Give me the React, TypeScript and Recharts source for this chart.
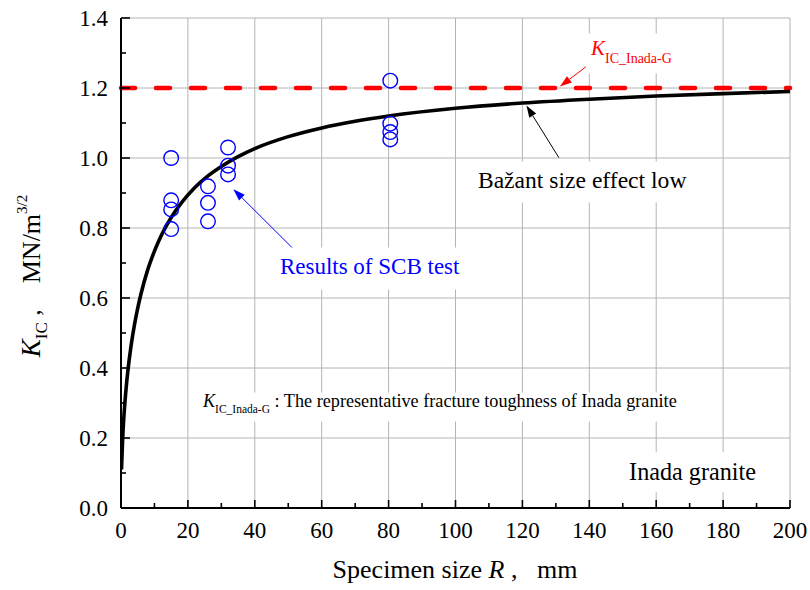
import React from 'react';
import {
  ComposedChart,
  XAxis,
  YAxis,
  CartesianGrid,
  Line,
  Scatter,
  ReferenceLine,
  ReferenceDot,
} from 'recharts';

// ---------- data ----------
const testR = [15, 15, 15, 15, 26, 26, 26, 32, 32, 32, 80.5, 80.5, 80.5, 80.5];
const testK = [1.0, 0.879, 0.853, 0.797, 0.919, 0.872, 0.819, 1.03, 0.978, 0.953, 1.221, 1.098, 1.074, 1.053];

const curveR = [0.15, 0.5, 1, 1.5, 2, 3, 4, 5, 6, 8, 10, 12, 15, 18, 22, 26, 30, 35, 40, 50, 60, 70, 80, 100, 120, 140, 160, 180, 200];
const curveK = [0.11, 0.2, 0.28, 0.339, 0.387, 0.463, 0.522, 0.571, 0.613, 0.681, 0.734, 0.778, 0.83, 0.871, 0.915, 0.949, 0.976, 1.004, 1.027, 1.061, 1.086, 1.105, 1.12, 1.142, 1.157, 1.168, 1.177, 1.184, 1.19];

const kInadaG = 1.2;

const xTicks = [0, 10, 20, 30, 40, 50, 60, 70, 80, 90, 100, 110, 120, 130, 140, 150, 160, 170, 180, 190, 200];
const xMajor = [0, 20, 40, 60, 80, 100, 120, 140, 160, 180, 200];
const yTicks = [0, 0.1, 0.2, 0.3, 0.4, 0.5, 0.6, 0.7, 0.8, 0.9, 1.0, 1.1, 1.2, 1.3, 1.4];
const yMajor = [0, 0.2, 0.4, 0.6, 0.8, 1.0, 1.2, 1.4];

// annotation anchors (data coordinates)
const redLabelAt = { r: 140.5, k: 1.293 };
const redArrow = [{ x: 141.1, y: 1.276 }, { x: 131.2, y: 1.204 }];
const bazantLabelAt = { r: 106.7, k: 0.913 };
const blackArrow = [{ x: 130.9, y: 1.001 }, { x: 121.2, y: 1.15 }];
const scbLabelAt = { r: 47.5, k: 0.67 };
const blueArrow = [{ x: 52.6, y: 0.73 }, { x: 33.6, y: 0.911 }];
const noteAt = { r: 24.5, k: 0.29 };
const graniteAt = { r: 151.9, k: 0.079 };

const testData = testR.map((r, i) => ({ r, k: testK[i] }));
const curveData = curveR.map((r, i) => ({ r, k: curveK[i] }));

const FONT = "'Liberation Serif', 'Times New Roman', serif";

// ---------- ticks ----------
const isMajorX = (v: number) => v % 20 === 0;
const isMajorY = (v: number) => Math.round(v * 10) % 2 === 0;

const BottomTick = (props: any) => {
  const { x, y, payload } = props;
  const v = payload.value;
  const major = isMajorX(v);
  return (
    <g>
      <line x1={x} x2={x} y1={y} y2={y - (major ? 8 : 5)} stroke="#000" strokeWidth={1.6} />
      {major && (
        <text x={x} y={y + 30} textAnchor="middle" fontSize={23} fontFamily={FONT} fill="#000">
          {v}
        </text>
      )}
    </g>
  );
};

const TopTick = (props: any) => {
  const { x, y, payload } = props;
  const major = isMajorX(payload.value);
  return <line x1={x} x2={x} y1={y} y2={y + (major ? 8 : 5)} stroke="#000" strokeWidth={1.6} />;
};

const LeftTick = (props: any) => {
  const { x, y, payload } = props;
  const v = payload.value;
  const major = isMajorY(v);
  return (
    <g>
      <line x1={x} x2={x + (major ? 9 : 5)} y1={y} y2={y} stroke="#000" strokeWidth={1.6} />
      {major && (
        <text x={x - 13} y={y + 8} textAnchor="end" fontSize={23} fontFamily={FONT} fill="#000">
          {v.toFixed(1)}
        </text>
      )}
    </g>
  );
};

const RightTick = (props: any) => {
  const { x, y, payload } = props;
  const major = isMajorY(payload.value);
  return <line x1={x} x2={x - (major ? 9 : 5)} y1={y} y2={y} stroke="#000" strokeWidth={1.6} />;
};

// ---------- annotation shapes ----------
const makeArrow = (color: string, width: number) => (p: any) => {
  const { x1, y1, x2, y2 } = p;
  const dx = x2 - x1;
  const dy = y2 - y1;
  const len = Math.sqrt(dx * dx + dy * dy) || 1;
  const ux = dx / len;
  const uy = dy / len;
  const hl = 12;
  const hw = 4;
  const bx = x2 - ux * hl;
  const by = y2 - uy * hl;
  const pts = `${x2},${y2} ${bx - uy * hw},${by + ux * hw} ${bx + uy * hw},${by - ux * hw}`;
  return (
    <g>
      <line x1={x1} y1={y1} x2={bx} y2={by} stroke={color} strokeWidth={width} />
      <polygon points={pts} fill={color} />
    </g>
  );
};

const RedLabel = (p: any) => {
  const { cx, cy } = p;
  return (
    <g>
      <rect x={cx - 5} y={cy - 22} width={92} height={40} fill="#fff" />
      <text x={cx} y={cy} fontFamily={FONT} fill="#ff0000">
        <tspan fontSize={21} fontStyle="italic">K</tspan>
        <tspan fontSize={14} dy={8}>IC_Inada-G</tspan>
      </text>
    </g>
  );
};

const BazantLabel = (p: any) => {
  const { cx, cy } = p;
  return (
    <g>
      <rect x={cx - 7} y={cy - 27} width={222} height={41} fill="#fff" />
      <text x={cx} y={cy} fontFamily={FONT} fontSize={23.6} fill="#000">
        Bažant size effect low
      </text>
    </g>
  );
};

const ScbLabel = (p: any) => {
  const { cx, cy } = p;
  return (
    <g>
      <rect x={cx - 5} y={cy - 26} width={190} height={42} fill="#fff" />
      <text x={cx} y={cy} fontFamily={FONT} fontSize={23} fill="#0000ff">
        Results of SCB test
      </text>
    </g>
  );
};

const NoteLabel = (p: any) => {
  const { cx, cy } = p;
  return (
    <g>
      <rect x={cx - 6} y={cy - 14} width={490} height={29} fill="#fff" />
      <text x={cx} y={cy} fontFamily={FONT} fill="#000">
        <tspan fontSize={18.2} fontStyle="italic">K</tspan>
        <tspan fontSize={11.5} dy={6}>IC_Inada-G</tspan>
        <tspan fontSize={18.2} dy={-6}> : The representative fracture toughness of Inada granite</tspan>
      </text>
    </g>
  );
};

const GraniteLabel = (p: any) => {
  const { cx, cy } = p;
  return (
    <g>
      <rect x={cx - 7} y={cy - 28} width={142} height={40} fill="#fff" />
      <text x={cx} y={cy} fontFamily={FONT} fontSize={24.2} fill="#000">
        Inada granite
      </text>
    </g>
  );
};

const Ring = (p: any) => {
  const { cx, cy } = p;
  return <circle cx={cx} cy={cy} r={7.3} fill="none" stroke="#0000ff" strokeWidth={1.4} />;
};

export default function App() {
  return (
    <div style={{ position: 'absolute', left: 0, top: 0, width: 810, height: 590, background: '#fff' }}>
      <ComposedChart width={810} height={590} margin={{ top: 18, right: 20, bottom: 0, left: 0 }}>
        <XAxis
          xAxisId="b"
          dataKey="r"
          type="number"
          domain={[0, 200]}
          ticks={xTicks}
          interval={0}
          height={82}
          tickSize={0}
          tickMargin={0}
          tickLine={false}
          tick={<BottomTick />}
          axisLine={{ stroke: '#000', strokeWidth: 2 }}
          allowDataOverflow
        />
        <XAxis
          xAxisId="t"
          orientation="top"
          type="number"
          dataKey="r"
          domain={[0, 200]}
          ticks={xTicks}
          interval={0}
          height={0}
          tickSize={0}
          tickMargin={0}
          tickLine={false}
          tick={<TopTick />}
          axisLine={{ stroke: '#000', strokeWidth: 2 }}
          allowDataOverflow
        />
        <YAxis
          yAxisId="l"
          dataKey="k"
          type="number"
          domain={[0, 1.4]}
          ticks={yTicks}
          interval={0}
          width={121}
          tickSize={0}
          tickMargin={0}
          tickLine={false}
          tick={<LeftTick />}
          axisLine={{ stroke: '#000', strokeWidth: 2 }}
          allowDataOverflow
        />
        <YAxis
          yAxisId="r"
          orientation="right"
          dataKey="k"
          type="number"
          domain={[0, 1.4]}
          ticks={yTicks}
          interval={0}
          width={0}
          tickSize={0}
          tickMargin={0}
          tickLine={false}
          tick={<RightTick />}
          axisLine={{ stroke: '#000', strokeWidth: 2 }}
          allowDataOverflow
        />
        <CartesianGrid
          xAxisId="b"
          yAxisId="l"
          stroke="#b4b4b4"
          strokeWidth={1}
          verticalValues={xMajor}
          horizontalValues={yMajor}
        />
        <ReferenceLine
          xAxisId="b"
          yAxisId="l"
          y={kInadaG}
          stroke="#ff0000"
          strokeWidth={4.6}
          strokeDasharray="14 21"
          strokeLinecap="round"
        />
        <ReferenceDot xAxisId="b" yAxisId="l" x={redLabelAt.r} y={redLabelAt.k} r={1} shape={RedLabel} ifOverflow="visible" />
        <ReferenceDot xAxisId="b" yAxisId="l" x={bazantLabelAt.r} y={bazantLabelAt.k} r={1} shape={BazantLabel} ifOverflow="visible" />
        <ReferenceDot xAxisId="b" yAxisId="l" x={scbLabelAt.r} y={scbLabelAt.k} r={1} shape={ScbLabel} ifOverflow="visible" />
        <ReferenceDot xAxisId="b" yAxisId="l" x={noteAt.r} y={noteAt.k} r={1} shape={NoteLabel} ifOverflow="visible" />
        <ReferenceDot xAxisId="b" yAxisId="l" x={graniteAt.r} y={graniteAt.k} r={1} shape={GraniteLabel} ifOverflow="visible" />
        <ReferenceLine xAxisId="b" yAxisId="l" segment={redArrow} shape={makeArrow('#ff0000', 1)} ifOverflow="visible" />
        <ReferenceLine xAxisId="b" yAxisId="l" segment={blackArrow} shape={makeArrow('#000', 1)} ifOverflow="visible" />
        <ReferenceLine xAxisId="b" yAxisId="l" segment={blueArrow} shape={makeArrow('#0000ff', 1)} ifOverflow="visible" />
        <Scatter xAxisId="b" yAxisId="l" data={testData} shape={Ring} isAnimationActive={false} />
        <Line
          xAxisId="b"
          yAxisId="l"
          data={curveData}
          dataKey="k"
          type="monotone"
          stroke="#000"
          strokeWidth={3.6}
          dot={false}
          activeDot={false}
          isAnimationActive={false}
        />
      </ComposedChart>
      <svg width={810} height={590} style={{ position: 'absolute', left: 0, top: 0, pointerEvents: 'none' }}>
        <text x={455} y={578} textAnchor="middle" fontFamily={FONT} fontSize={26} fill="#000" style={{ whiteSpace: 'pre' }}>
          <tspan>Specimen size </tspan>
          <tspan fontStyle="italic">R</tspan>
          <tspan> ,   mm</tspan>
        </text>
        <text
          transform="rotate(-90)"
          x={-276}
          y={40}
          textAnchor="middle"
          fontFamily={FONT}
          fill="#000"
          style={{ whiteSpace: 'pre' }}
        >
          <tspan fontSize={27} fontStyle="italic">K</tspan>
          <tspan fontSize={17} dy={7}>IC</tspan>
          <tspan fontSize={26} dy={-7}> ,    MN/m</tspan>
          <tspan fontSize={15} dy={-13}>3/2</tspan>
        </text>
      </svg>
    </div>
  );
}
